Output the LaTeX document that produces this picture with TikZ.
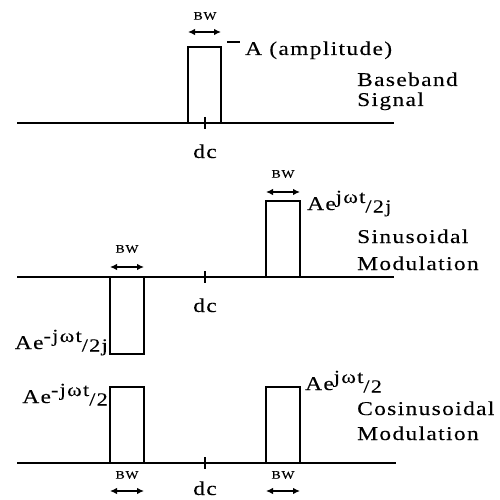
\documentclass[tikz,border=0pt]{standalone}
\usepackage{fontspec}
\setmainfont{Liberation Serif}[LetterSpace=7,FakeStretch=1.2,FakeBold=0.2]
\usetikzlibrary{arrows.meta}
\newcommand{\bigtxt}{\fontsize{19.5}{22}\selectfont}
\newcommand{\smalltxt}{\fontsize{11.5}{13}\selectfont}
\newcommand{\exptxt}{\fontsize{18.5}{20}\selectfont}
\newcommand{\ampl}[2]{Ae\raisebox{7pt}{\exptxt #1}\raisebox{-2.5pt}{\exptxt /#2}}
\begin{document}
\begin{tikzpicture}[x=1pt,y=-1pt,
  axis/.style={line width=1.8pt},
  pulse/.style={line width=1.8pt},
  bwarrow/.style={{Latex[length=7pt,width=6.5pt]}-{Latex[length=7pt,width=6.5pt]},line width=1.3pt},
  lbl/.style={font=\bigtxt,inner sep=0pt},
  bwlbl/.style={font=\smalltxt,inner sep=0pt}]
\useasboundingbox (0,0) rectangle (499,500);
% baseband
\draw[axis] (17,123)--(394,123);
\draw[axis] (205,117)--(205,129);
\draw[pulse] (188,123)--(188,47)--(221,47)--(221,123);
\draw[pulse] (227,42)--(240,42);
\node[bwlbl] (bwtop) at (205,16) {BW};
\coordinate (bwtopl) at (188,32);
\coordinate (bwtopr) at (221,32);
\draw[bwarrow] (bwtopl)--(bwtopr);
\node[lbl,anchor=base west] (amp) at (245,55) {A (amplitude)};
\node[lbl,anchor=base] (dctop) at (205,158) {dc};
\node[lbl,anchor=base west] (base1) at (357,86) {Baseband};
\node[lbl,anchor=base west] (base2) at (357,106) {Signal};
% sinusoidal
\draw[axis] (17,277)--(394,277);
\draw[axis] (205,271)--(205,283);
\draw[pulse] (266,277)--(266,201)--(300,201)--(300,277);
\draw[pulse] (110,277)--(110,354)--(144,354)--(144,277);
\node[bwlbl] (bwsinr) at (283,174) {BW};
\coordinate (bwsinrl) at (266,192);
\coordinate (bwsinrr) at (300,192);
\draw[bwarrow] (bwsinrl)--(bwsinrr);
\node[bwlbl] (bwsinl) at (127,249) {BW};
\coordinate (bwsinll) at (110,267);
\coordinate (bwsinlr) at (144,267);
\draw[bwarrow] (bwsinll)--(bwsinlr);
\node[lbl,anchor=base west] (sinpos) at (307,210) {\ampl{jωt}{2j}};
\node[lbl,anchor=base east] (sinneg) at (108,349) {\ampl{-jωt}{2j}};
\node[lbl,anchor=base] (dcsin) at (205,312) {dc};
\node[lbl,anchor=base west] (sin1) at (357,243) {Sinusoidal};
\node[lbl,anchor=base west] (sin2) at (357,270) {Modulation};
% cosinusoidal
\draw[axis] (17,463)--(396,463);
\draw[axis] (205,457)--(205,469);
\draw[pulse] (110,463)--(110,387)--(144,387)--(144,463);
\draw[pulse] (266,463)--(266,387)--(300,387)--(300,463);
\node[bwlbl] (bwcosl) at (127,475) {BW};
\coordinate (bwcosll) at (110,491);
\coordinate (bwcoslr) at (144,491);
\draw[bwarrow] (bwcosll)--(bwcoslr);
\node[bwlbl] (bwcosr) at (283,475) {BW};
\coordinate (bwcosrl) at (266,491);
\coordinate (bwcosrr) at (300,491);
\draw[bwarrow] (bwcosrl)--(bwcosrr);
\node[lbl,anchor=base west] (cospos) at (305,390) {\ampl{jωt}{2}};
\node[lbl,anchor=base east] (cosneg) at (108,403) {\ampl{-jωt}{2}};
\node[lbl,anchor=base] (dccos) at (205,495) {dc};
\node[lbl,anchor=base west] (cos1) at (357,415) {Cosinusoidal};
\node[lbl,anchor=base west] (cos2) at (357,440) {Modulation};
\end{tikzpicture}
\end{document}
